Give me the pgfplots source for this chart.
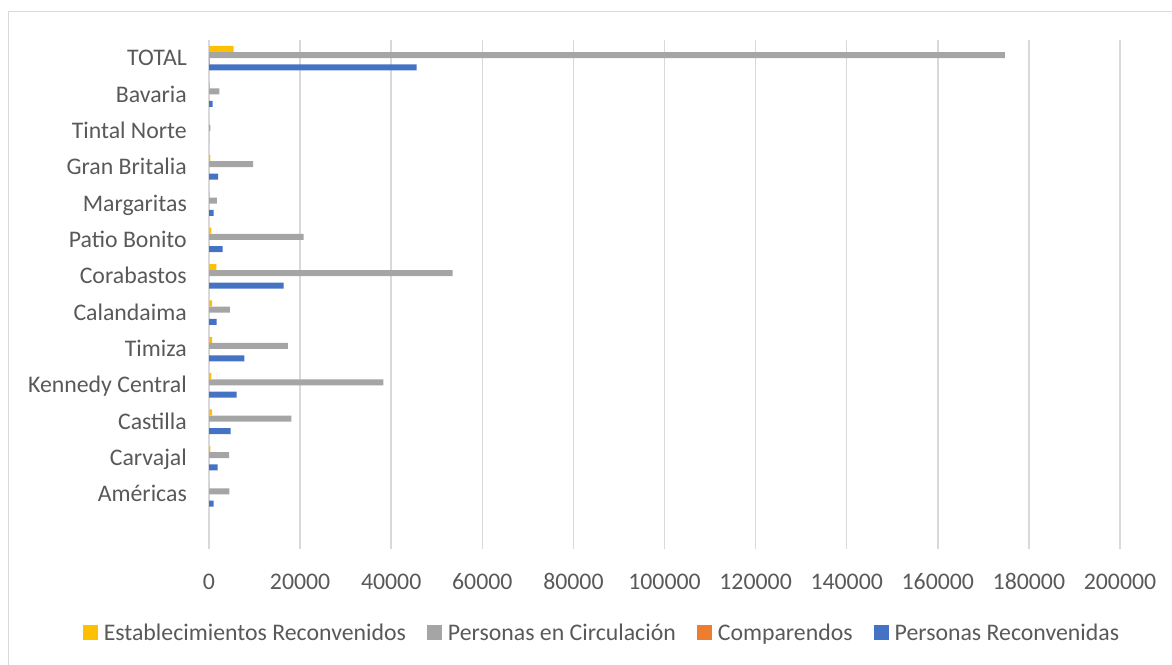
\documentclass[border=0pt]{standalone}
\usepackage{fontspec}
\setmainfont{Carlito}
\usepackage{pgfplots}
\usepackage{pgfplotstable}
\pgfplotsset{compat=1.18}

\definecolor{cYellow}{HTML}{FFC000}
\definecolor{cGray}{HTML}{A5A5A5}
\definecolor{cOrange}{HTML}{ED7D31}
\definecolor{cBlue}{HTML}{4472C4}
\definecolor{cText}{HTML}{595959}
\definecolor{cGrid}{HTML}{D9D9D9}

% y: 0 = Americas (bottom) ... 12 = TOTAL (top)
\pgfplotstableread{
y  estab  circ    comp  recon
0  100    4500    10    1000
1  300    4400    10    1900
2  700    18100   10    4750
3  500    38300   10    6050
4  700    17300   10    7750
5  700    4600    10    1700
6  1600   53500   10    16400
7  500    20800   10    3000
8  150    1750    10    1000
9  300    9700    10    2000
10 50     300     5     50
11 200    2300    10    800
12 5400   174700  150   45600
}\datatable

\begin{document}
\begin{tikzpicture}[x=1bp,y=1bp]
\useasboundingbox (0,0) rectangle (1172,665);
% chart border (cut at the right and bottom edges)
\draw[cGrid, line width=1.5bp] (8.7,-10) -- (8.7,653.5) -- (1185,653.5);

\begin{axis}[
    at={(209bp,116bp)}, anchor=south west,
    scale only axis,
    width=911bp, height=509bp,
    xbar,
    bar width=0.165,
    xmin=0, xmax=200000,
    ymin=-1.5, ymax=12.5,
    xtick={0,20000,40000,60000,80000,100000,120000,140000,160000,180000,200000},
    xticklabels={0,20000,40000,60000,80000,100000,120000,140000,160000,180000,200000},
    scaled x ticks=false,
    ytick={0,...,12},
    yticklabels={Américas,Carvajal,Castilla,Kennedy Central,Timiza,Calandaima,Corabastos,Patio Bonito,Margaritas,Gran Britalia,Tintal Norte,Bavaria,TOTAL},
    major tick length=0pt,
    axis line style={draw=none},
    xmajorgrids,
    grid style={cGrid, line width=1.5bp},
    ticklabel style={font=\fontsize{23.8bp}{28bp}\selectfont, text=cText},
    xticklabel style={anchor=center, inner sep=0pt, yshift=-32.7bp},
    yticklabel style={anchor=east, inner sep=0pt, xshift=-22bp, text height=15bp, text depth=0pt},
    legend columns=-1,
    legend style={draw=none, fill=none,
        at={(0.4335,-0.165)}, anchor=center,
        font=\fontsize{23.8bp}{28bp}\selectfont, text=cText,
        nodes={inner xsep=6bp},
        /tikz/every even column/.append style={column sep=15bp}},
    legend image code/.code={\fill[#1] (0bp,-7.5bp) rectangle (15bp,7.5bp);},
]
\addplot[fill=cYellow, draw=none, bar shift=0.255] table[x=estab, y=y] {\datatable};
\addlegendentry{Establecimientos Reconvenidos}
\addplot[fill=cGray, draw=none, bar shift=0.085] table[x=circ, y=y] {\datatable};
\addlegendentry{Personas en Circulación}
\addplot[fill=cOrange, draw=none, bar shift=-0.085] table[x=comp, y=y] {\datatable};
\addlegendentry{Comparendos}
\addplot[fill=cBlue, draw=none, bar shift=-0.255] table[x=recon, y=y] {\datatable};
\addlegendentry{Personas Reconvenidas}
\end{axis}
\end{tikzpicture}
\end{document}
